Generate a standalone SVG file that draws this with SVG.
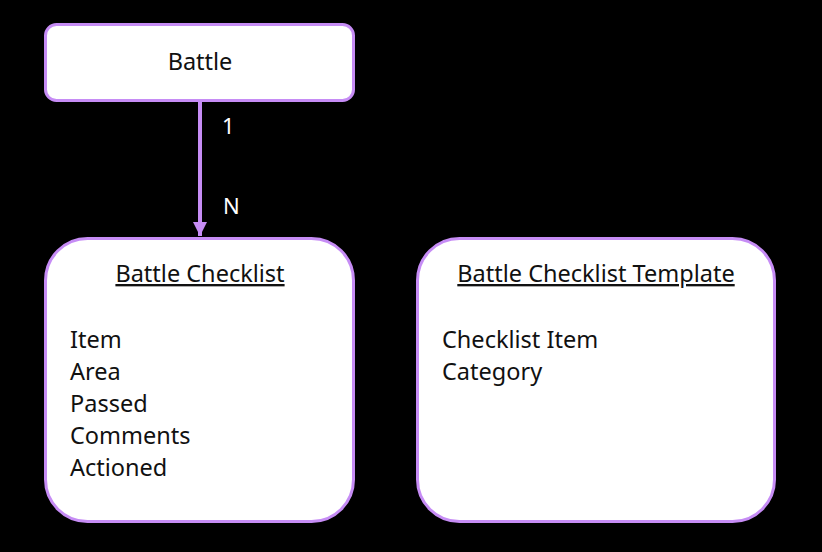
<svg xmlns="http://www.w3.org/2000/svg" width="822" height="552" viewBox="0 0 822 552">
<defs>
<style>
.box{fill:#ffffff;stroke:#c68cf5;stroke-width:3}
.t{font-family:"Noto Sans","Open Sans",sans-serif;font-size:23.5px;fill:#111111}
.title{text-anchor:middle;text-decoration:underline}
.lbl{font-family:"Noto Sans","Open Sans",sans-serif;font-size:22px;fill:#ffffff}
.conn{stroke:#c68cf5;stroke-width:4;fill:none}
</style>
<marker id="arr" viewBox="0 0 10 10" refX="10" refY="5" markerWidth="3.5" markerHeight="4" orient="auto" markerUnits="strokeWidth">
<path d="M0,0 L10,5 L0,10 z" fill="#c68cf5"/>
</marker>
</defs>
<rect width="822" height="552" fill="#000000"/>
<g id="connectors">
<line class="conn" x1="200" y1="101" x2="200" y2="236" marker-end="url(#arr)"/>
<text class="lbl" x="222" y="134">1</text>
<text class="lbl" x="223" y="214">N</text>
</g>
<g id="battle">
<rect class="box" x="45.5" y="24.5" width="308" height="76" rx="11"/>
<text class="t" x="200" y="70" text-anchor="middle">Battle</text>
</g>
<g id="battle-checklist">
<rect class="box" x="45.5" y="238.5" width="308" height="283" rx="42"/>
<text class="t title" x="200" y="282">Battle Checklist</text>
<text class="t" x="70" y="348">Item</text>
<text class="t" x="70" y="380">Area</text>
<text class="t" x="70" y="412">Passed</text>
<text class="t" x="70" y="444">Comments</text>
<text class="t" x="70" y="476">Actioned</text>
</g>
<g id="battle-checklist-template">
<rect class="box" x="417.5" y="238.5" width="357" height="283" rx="42"/>
<text class="t title" x="596" y="282">Battle Checklist Template</text>
<text class="t" x="442" y="348">Checklist Item</text>
<text class="t" x="442" y="380">Category</text>
</g>
</svg>
